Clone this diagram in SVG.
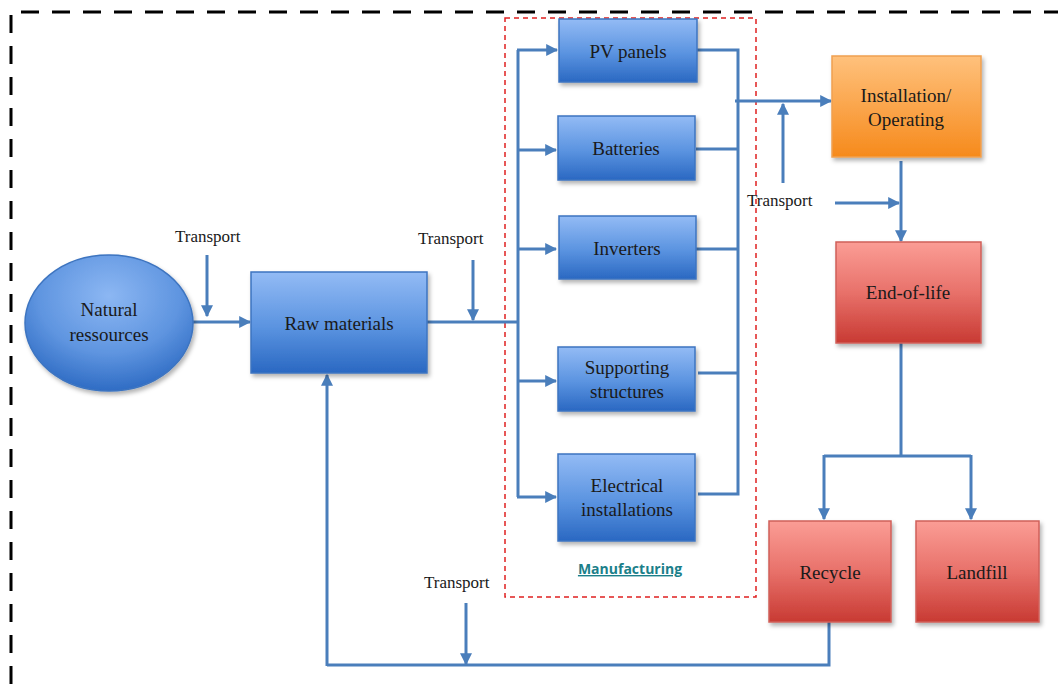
<svg xmlns="http://www.w3.org/2000/svg" width="1058" height="684" viewBox="0 0 1058 684">
<defs>
<linearGradient id="gb" x1="0" y1="0" x2="0" y2="1"><stop offset="0" stop-color="#93bbf5"/><stop offset="0.55" stop-color="#5a93e0"/><stop offset="1" stop-color="#2a68c2"/></linearGradient>
<linearGradient id="go" x1="0" y1="0" x2="0" y2="1"><stop offset="0" stop-color="#ffc17c"/><stop offset="1" stop-color="#f68a1c"/></linearGradient>
<linearGradient id="gr" x1="0" y1="0" x2="0" y2="1"><stop offset="0" stop-color="#fb9d95"/><stop offset="0.5" stop-color="#e8716a"/><stop offset="1" stop-color="#c83a33"/></linearGradient>
<radialGradient id="ge" cx="0.5" cy="0.3" r="0.7"><stop offset="0" stop-color="#8cb7f3"/><stop offset="0.6" stop-color="#5f95e0"/><stop offset="1" stop-color="#2f6cc4"/></radialGradient>
<filter id="sh" x="-10%" y="-10%" width="130%" height="130%"><feDropShadow dx="2" dy="3" stdDeviation="2" flood-color="#000" flood-opacity="0.3"/></filter>
<marker id="ah" viewBox="0 0 10 10" refX="9" refY="5" markerWidth="4" markerHeight="4" orient="auto"><path d="M0,0 L10,5 L0,10 z" fill="#4a7ebb"/></marker>
</defs>
<style>
.b{fill:url(#gb);stroke:#3d74c0;stroke-width:1.5;filter:url(#sh)}
.o{fill:url(#go);stroke:#f0a050;stroke-width:1.5;filter:url(#sh)}
.r{fill:url(#gr);stroke:#d0605a;stroke-width:1.5;filter:url(#sh)}
text.t{font-family:Liberation Serif,Tinos,Times New Roman,DejaVu Serif,serif;font-size:19px;fill:#1a1a1a;text-anchor:middle}
text.tr{font-family:Liberation Serif,Tinos,Times New Roman,DejaVu Serif,serif;font-size:17px;fill:#1a1a1a}
.c{fill:none;stroke:#4a7ebb;stroke-width:3}
.a{fill:none;stroke:#4a7ebb;stroke-width:3;marker-end:url(#ah)}
</style>
<rect width="1058" height="684" fill="#fff"/>
<path d="M11,684 V12 H1058" fill="none" stroke="#000" stroke-width="3" stroke-dasharray="18,13"/>
<rect x="505" y="18" width="251" height="579" fill="none" stroke="#e02020" stroke-width="1.5" stroke-dasharray="5,4"/>
<g id="connectors">
<line class="a" x1="193" y1="322" x2="250" y2="322"/>
<line class="a" x1="207" y1="255" x2="207" y2="316"/>
<line class="c" x1="427" y1="322" x2="519" y2="322"/>
<line class="a" x1="473" y1="260" x2="473" y2="320"/>
<line class="c" x1="518" y1="50" x2="518" y2="497"/>
<line class="a" x1="517" y1="50" x2="557" y2="50"/>
<line class="a" x1="517" y1="150" x2="556" y2="150"/>
<line class="a" x1="517" y1="249" x2="556" y2="249"/>
<line class="a" x1="517" y1="381" x2="556" y2="381"/>
<line class="a" x1="517" y1="497" x2="556" y2="497"/>
<polyline class="c" points="697,50 738,50 738,494 698,494"/>
<line class="c" x1="696" y1="149" x2="738" y2="149"/>
<line class="c" x1="696" y1="249" x2="738" y2="249"/>
<line class="c" x1="698" y1="373" x2="738" y2="373"/>
<line class="a" x1="735" y1="101" x2="831" y2="101"/>
<line class="a" x1="783" y1="183" x2="783" y2="104"/>
<line class="a" x1="835" y1="203" x2="899" y2="203"/>
<line class="a" x1="901" y1="161" x2="901" y2="241"/>
<line class="c" x1="901" y1="343" x2="901" y2="456"/>
<line class="c" x1="824" y1="456" x2="971" y2="456"/>
<line class="a" x1="824" y1="455" x2="824" y2="519"/>
<line class="a" x1="971" y1="455" x2="971" y2="519"/>
<polyline class="c" points="829,622 829,665 327,665"/>
<line class="a" x1="327" y1="666" x2="327" y2="375"/>
<line class="a" x1="466" y1="603" x2="466" y2="664"/>
</g>
<g id="n-natural"><ellipse cx="109" cy="323" rx="84" ry="68" fill="url(#ge)" stroke="#3d74c0" stroke-width="1.5" filter="url(#sh)"/><text class="t" x="109" y="316">Natural</text><text class="t" x="109" y="341">ressources</text></g>
<g id="n-raw"><rect class="b" x="251" y="272" width="176" height="101"/><text class="t" x="339" y="330">Raw materials</text></g>
<g id="n-pv"><rect class="b" x="559" y="19" width="138" height="63"/><text class="t" x="628" y="58">PV panels</text></g>
<g id="n-bat"><rect class="b" x="558" y="116" width="137" height="64"/><text class="t" x="626" y="155">Batteries</text></g>
<g id="n-inv"><rect class="b" x="559" y="216" width="137" height="63"/><text class="t" x="627" y="255">Inverters</text></g>
<g id="n-sup"><rect class="b" x="558" y="347" width="137" height="64"/><text class="t" x="627" y="374">Supporting</text><text class="t" x="627" y="398">structures</text></g>
<g id="n-ele"><rect class="b" x="558" y="454" width="137" height="87"/><text class="t" x="627" y="492">Electrical</text><text class="t" x="627" y="516">installations</text></g>
<g id="n-inst"><rect class="o" x="832" y="56" width="149" height="101"/><text class="t" x="906" y="102">Installation/</text><text class="t" x="906" y="126">Operating</text></g>
<g id="n-eol"><rect class="r" x="836" y="242" width="145" height="101"/><text class="t" x="908" y="299">End-of-life</text></g>
<g id="n-rec"><rect class="r" x="769" y="521" width="122" height="101"/><text class="t" x="830" y="579">Recycle</text></g>
<g id="n-land"><rect class="r" x="916" y="521" width="123" height="101"/><text class="t" x="977" y="579">Landfill</text></g>
<g id="labels">
<text class="tr" x="175" y="242">Transport</text>
<text class="tr" x="418" y="244">Transport</text>
<text class="tr" x="747" y="206">Transport</text>
<text class="tr" x="424" y="588">Transport</text>
</g>
<text x="630" y="574" font-family="Open Sans, Liberation Sans, sans-serif" font-size="14" font-weight="bold" fill="#1b7f8a" text-anchor="middle" text-decoration="underline">Manufacturing</text>
</svg>
